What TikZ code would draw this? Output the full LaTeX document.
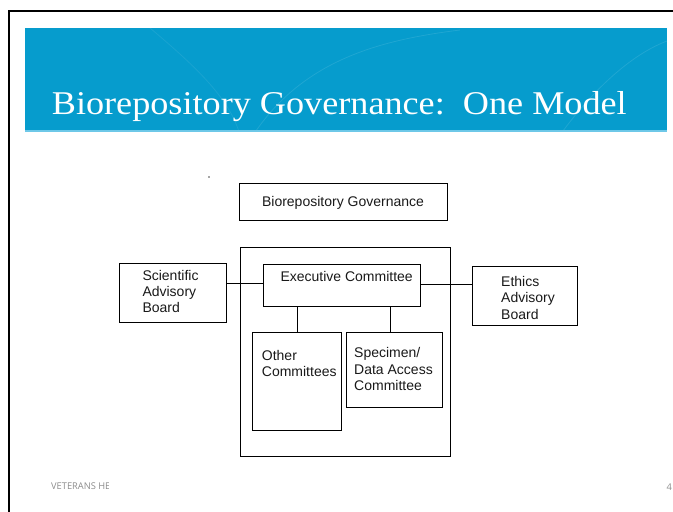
\documentclass[tikz,border=0pt]{standalone}
\usepackage{fontspec}
\setmainfont{Liberation Sans}
\newfontfamily\titlefont{Liberation Serif}
\newfontfamily\footfont{Open Sans}
\definecolor{bannerblue}{RGB}{6,156,205}
\definecolor{bannerline}{RGB}{110,200,232}
\definecolor{footgray}{RGB}{140,140,140}
\tikzset{
  box/.style={draw=black, line width=0.9pt, inner sep=0pt, rectangle},
  boxtext/.style={inner sep=0pt, font=\fontsize{14}{16.2}\selectfont, align=left, text=black!90},
  link/.style={draw=black, line width=0.9pt}
}
\begin{document}
\begin{tikzpicture}[x=1pt, y=-1pt]
\useasboundingbox (0,0) rectangle (673,512);
% slide frame
\draw[line width=2.5pt] (9,512) -- (9,11) -- (674,11);
% banner
\fill[bannerblue] (25,27.5) rectangle (667,132);
\begin{scope}
\clip (25,27.5) rectangle (667,132);
\draw[white, opacity=0.12, line width=0.8pt] (60,160) arc[start angle=200, end angle=290, radius=-120];
\draw[white, opacity=0.10, line width=0.8pt] (250,140) .. controls (300,60) and (380,40) .. (460,30);
\draw[white, opacity=0.10, line width=0.8pt] (560,135) .. controls (600,80) and (640,50) .. (670,40);
\draw[white, opacity=0.08, line width=0.8pt] (150,28) .. controls (200,70) and (230,100) .. (240,135);
\end{scope}
\draw[bannerline, line width=1.5pt] (25,131) -- (667,131);
\node[anchor=base west, inner sep=0pt, text=white, font=\titlefont\fontsize{33.2}{36}\selectfont] (title) at (51.7,114.3)
  {\scalebox{1.09}[1]{Biorepository Governance:\ \ One Model}};
% stray dot
\fill[gray!70] (208.3,176) rectangle (209.7,177.6);
% boxes
\node[box, minimum width=208.4pt, minimum height=37.4pt] (gov) at (343.5,202) {};
\node[box, minimum width=210pt, minimum height=208.3pt] (outer) at (345.3,351.85) {};
\node[box, minimum width=157.4pt, minimum height=42.4pt] (exec) at (342,285.5) {};
\node[box, minimum width=107.4pt, minimum height=59pt] (sab) at (173,292.5) {};
\node[box, minimum width=105pt, minimum height=58.3pt] (ethics) at (524.5,295.9) {};
\node[box, minimum width=89pt, minimum height=97.3pt] (other) at (297.2,381.35) {};
\node[box, minimum width=95.6pt, minimum height=75pt] (spec) at (394.5,370.2) {};
% texts
\node[boxtext, anchor=base] (govt) at (343,206.7) {Biorepository Governance};
\node[boxtext, anchor=base west] (exect) at (280.3,281.7) {Executive Committee};
\node[boxtext, anchor=west] (sabt) at (142.3,291.3) {Scientific\\Advisory\\Board};
\node[boxtext, anchor=west] (ethicst) at (501,297.8) {Ethics\\Advisory\\Board};
\node[boxtext, anchor=west] (othert) at (261.7,363.3) {Other\\Committees};
\node[boxtext, anchor=west] (spect) at (354,369) {Specimen/\\Data Access\\Committee};
% connectors
\draw[link] ([yshift=2.2pt]exec.west) -- ([yshift=2.2pt]exec.west -| sab.east);
\draw[link] ([yshift=1.2pt]exec.east) -- ([yshift=1.2pt]exec.east -| ethics.west);
\draw[link] (other.north) -- (other.north |- exec.south);
\draw[link] ([xshift=-4.5pt]spec.north) -- ([xshift=-4.5pt]spec.north |- exec.south);
% footer
\begin{scope}
\clip (40,470) rectangle (108.5,500);
\node[anchor=base west, inner sep=0pt, text=footgray, font=\footfont\fontsize{9.3}{11}\selectfont] (foot) at (51,489.7) {VETERANS HEALTH};
\end{scope}
\node[anchor=base west, inner sep=0pt, text=footgray, font=\footfont\fontsize{9.3}{11}\selectfont] (pagenum) at (666.5,490) {4};
\end{tikzpicture}
\end{document}
